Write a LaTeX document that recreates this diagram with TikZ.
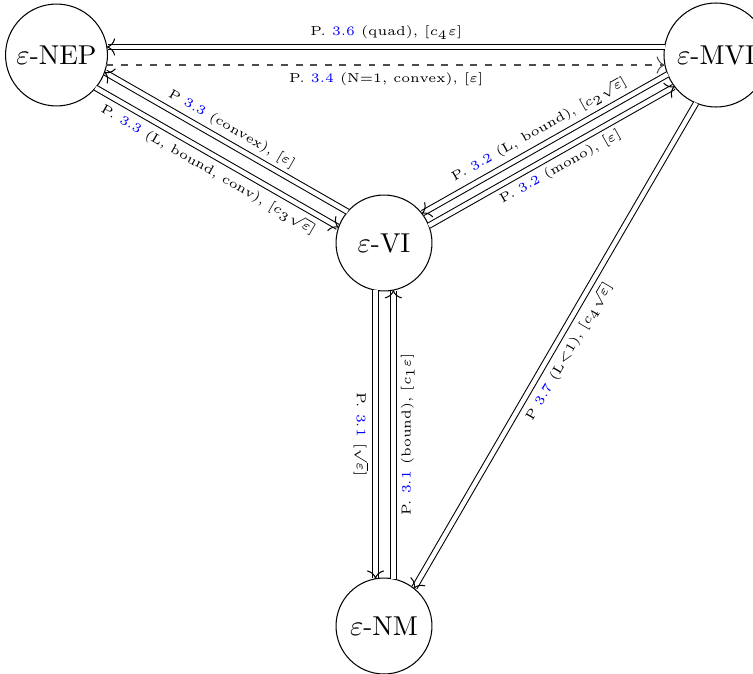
\documentclass[tikz,border=0pt]{standalone}
\usetikzlibrary{arrows.meta,calc}
\begin{document}
\begin{tikzpicture}[x=0.3846pt,y=-0.3846pt,
  st/.style={circle,draw,inner sep=0pt,font=\fontsize{10.5}{12}\selectfont},
  tip/.style={-{To[length=3.2pt,width=6.6pt]}},
  dbl/.style={double,double distance=1.7pt,tip},
  dsh/.style={dash pattern=on 2.6pt off 3pt,draw=black!70,tip},
  lab/.style={font=\tiny,sloped,inner sep=2.7pt},
  vlab/.style={font=\tiny,inner sep=2.7pt},
]
\useasboundingbox (0,0) rectangle (753,674);
\node[st,minimum size=39.2pt] (NEP) at (56.5,55) {$\varepsilon$-NEP};
\node[st,minimum size=40pt] (MVI) at (716,55) {$\varepsilon$-MVI};
\node[st,minimum size=36.9pt] (VI) at (384,243) {$\varepsilon$-VI};
\node[st,minimum size=36.9pt] (NM) at (384,626) {$\varepsilon$-NM};
% top
\draw[dbl,shorten <=19.76pt,shorten >=19.36pt] ($(MVI)!3.08pt!-90:(NEP)$) -- ($(NEP)!3.08pt!90:(MVI)$)
  node[lab,above,midway]{P. \textcolor{blue}{3.6} (quad), [$c_4\varepsilon$]};
\draw[dsh,shorten <=19.22pt,shorten >=19.63pt] ($(NEP)!3.85pt!-90:(MVI)$) -- ($(MVI)!3.85pt!90:(NEP)$)
  node[lab,below,midway,text=black]{P. \textcolor{blue}{3.4} (N=1, convex), [$\varepsilon$]};
% NEP -- VI
\draw[dbl,shorten <=18.13pt,shorten >=19.29pt] ($(VI)!3.46pt!-90:(NEP)$) -- ($(NEP)!3.46pt!90:(VI)$)
  node[lab,above,midway]{P \textcolor{blue}{3.3} (convex), [$\varepsilon$]};
\draw[dbl,shorten <=19.29pt,shorten >=18.13pt] ($(NEP)!3.46pt!-90:(VI)$) -- ($(VI)!3.46pt!90:(NEP)$)
  node[lab,below,midway]{P. \textcolor{blue}{3.3} (L, bound, conv), [$c_3\sqrt{\varepsilon}$]};
% VI -- MVI
\draw[dbl,shorten <=19.82pt,shorten >=18.26pt] ($(MVI)!2.69pt!-90:(VI)$) -- ($(VI)!2.69pt!90:(MVI)$)
  node[lab,above,midway]{P. \textcolor{blue}{3.2} (L, bound), [$c_2\sqrt{\varepsilon}$]};
\draw[dbl,shorten <=18.26pt,shorten >=19.82pt] ($(VI)!2.69pt!-90:(MVI)$) -- ($(MVI)!2.69pt!90:(VI)$)
  node[lab,below,midway]{P. \textcolor{blue}{3.2} (mono), [$\varepsilon$]};
% VI -- NM
\draw[dbl,shorten <=18.17pt,shorten >=18.17pt] ($(VI)!3.27pt!-90:(NM)$) -- ($(NM)!3.27pt!90:(VI)$)
  node[vlab,rotate=-90,anchor=north,midway]{P. \textcolor{blue}{3.1} [$\sqrt{\varepsilon}$]};
\draw[dbl,shorten <=18.1pt,shorten >=18.1pt] ($(NM)!3.6pt!-90:(VI)$) -- ($(VI)!3.6pt!90:(NM)$)
  node[vlab,rotate=90,anchor=north,midway]{P. \textcolor{blue}{3.1} (bound), [$c_1\varepsilon$]};
% MVI -- NM
\draw[dbl,shorten <=19.82pt,shorten >=18.26pt] ($(MVI)!2.69pt!90:(NM)$) -- ($(NM)!2.69pt!-90:(MVI)$)
  node[lab,below,midway]{P \textcolor{blue}{3.7} (L$<$1), [$c_4\sqrt{\varepsilon}$]};
\end{tikzpicture}
\end{document}
